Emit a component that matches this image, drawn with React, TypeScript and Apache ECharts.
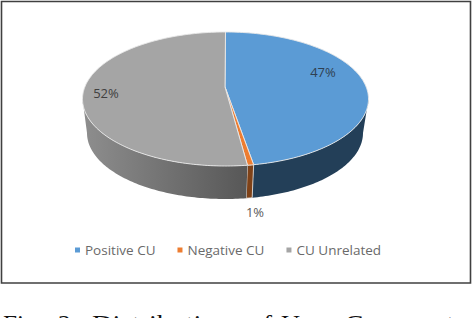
import React, { useEffect, useRef } from "react";
import * as echarts from "echarts";

const categories = ["Positive CU", "Negative CU", "CU Unrelated"];
const values = [46.8, 0.7, 52.4];
const percentLabels = ["47%", "1%", "52%"];
const captionWords = ["Fig.", "2:", "Distribution", "of", "User", "Comments"];

const topColors = ["#5b9bd5", "#ed7d31", "#a5a5a5"];
const labelColors = ["#2f3f50", "#595959", "#404040"];
const labelPos = [[323, 72], [255, 212], [106, 93]];
const captionX = [3, 58, 92, 250, 281, 345];
const captionScale = [1.05, 1.05, 1.19, 1.1, 1.1, 1.15];

const TOP = { cx: 225.5, cy: 99, rx: 143, ry: 67 };
const BOT = { cx: 225, cy: 133, rx: 138, ry: 66 };
const APEX = [225, 87];
const total = values.reduce((a, b) => a + b, 0);

const pt = (e: typeof TOP, t: number) => [e.cx + e.rx * Math.sin(t), e.cy - e.ry * Math.cos(t)];
const arc = (e: typeof TOP, a: number, b: number) => {
  const out: number[][] = [];
  const n = Math.max(2, Math.ceil(Math.abs(b - a) / 0.02));
  for (let i = 0; i <= n; i++) out.push(pt(e, a + ((b - a) * i) / n));
  return out;
};

const sideFills = [
  "#233f58",
  "#7f4218",
  new echarts.graphic.LinearGradient(0, 0, 1, 0, [
    { offset: 0, color: "#8e8e8e" },
    { offset: 1, color: "#575757" },
  ]),
];

function makeRender(index: number) {
  return () => {
    const before = values.slice(0, index).reduce((a, b) => a + b, 0);
    const a = (before / total) * Math.PI * 2;
    const b = ((before + values[index]) / total) * Math.PI * 2;
    const children: any[] = [];
    // visible side wall: only the front half of the rim
    const sa = Math.max(a, Math.PI / 2);
    const sb = Math.min(b, (Math.PI * 3) / 2);
    if (sb > sa) {
      children.push({
        type: "polygon",
        shape: { points: [...arc(TOP, sa, sb), ...arc(BOT, sb, sa)] },
        style: { fill: sideFills[index], stroke: "#e4e4e4", lineWidth: index === 1 ? 0.8 : 0 },
      });
    }
    children.push({
      type: "polygon",
      shape: { points: [APEX, ...arc(TOP, a, b)] },
      style: { fill: topColors[index], stroke: "#e9e9e9", lineWidth: 0.9 },
    });
    children.push({
      type: "text",
      z2: 10,
      style: {
        text: percentLabels[index],
        x: labelPos[index][0],
        y: labelPos[index][1],
        align: "center",
        verticalAlign: "middle",
        fill: labelColors[index],
        font: '13px "Open Sans"',
      },
    });
    return { type: "group", children };
  };
}

export default function App() {
  const ref = useRef<HTMLDivElement>(null);
  useEffect(() => {
    const chart = echarts.init(ref.current!, undefined, { renderer: "svg" });
    chart.setOption({
      animation: false,
      backgroundColor: "#ffffff",
      legend: {
        data: categories,
        left: 72,
        top: 240,
        icon: "rect",
        itemWidth: 5,
        itemHeight: 5,
        itemGap: 22,
        padding: [3, 3],
        textStyle: { color: "#6a6a6a", fontFamily: "Open Sans", fontSize: 13.5 },
        selectedMode: false,
      },
      series: categories.map((name, i) => ({
        type: "custom",
        name,
        coordinateSystem: "none",
        itemStyle: { color: topColors[i] },
        data: [[values[i]]],
        renderItem: makeRender(i),
        silent: true,
      })),
      graphic: [
        {
          type: "rect",
          shape: { x: 1.5, y: 1.5, width: 469, height: 281.5 },
          style: { fill: "none", stroke: "#404040", lineWidth: 1.6 },
          z: -1,
        },
        ...captionWords.map((w, i) => ({
          type: "text",
          x: captionX[i],
          y: 311,
          scaleX: captionScale[i],
          style: {
            text: w,
            fill: "#111111",
            font: '24px "Liberation Serif"',
            verticalAlign: "top",
          },
        })),
      ],
    });
    return () => chart.dispose();
  }, []);
  return (
    <div
      ref={ref}
      style={{ position: "absolute", left: 0, top: 0, width: 472, height: 318, overflow: "hidden" }}
    />
  );
}
